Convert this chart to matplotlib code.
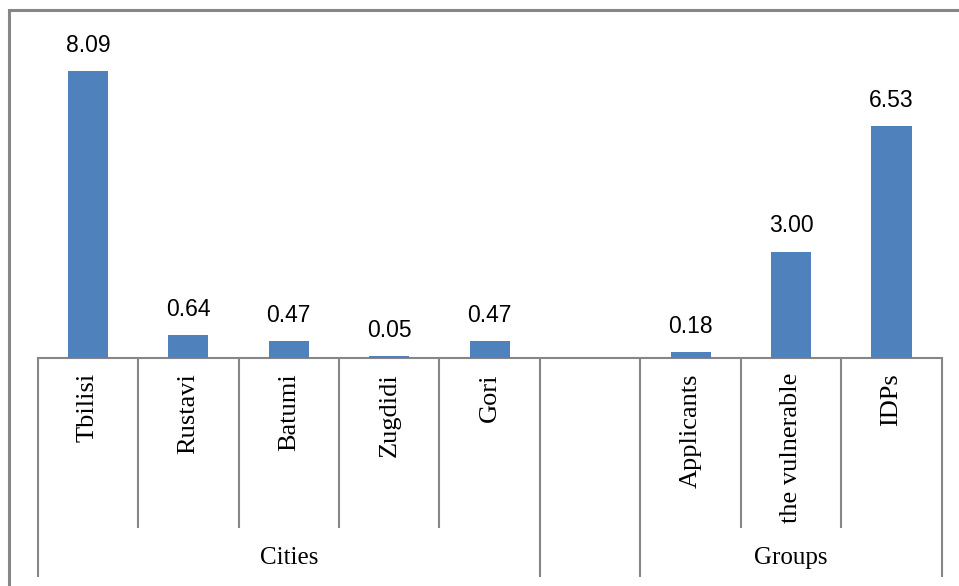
import matplotlib
matplotlib.use("Agg")
import matplotlib.pyplot as plt
from matplotlib.patches import Rectangle
from matplotlib.transforms import blended_transform_factory

# Data
categories = ["Tbilisi", "Rustavi", "Batumi", "Zugdidi", "Gori", "",
              "Applicants", "the vulnerable", "IDPs"]
values = [8.09, 0.64, 0.47, 0.05, 0.47, None, 0.18, 3.00, 6.53]
groups = ["Cities", "", "Groups"]
group_spans = [(0, 5), (5, 6), (6, 9)]   # category index ranges [start, end)

W, H = 959, 586
DPI = 100
fig = plt.figure(figsize=(W / DPI, H / DPI), dpi=DPI)
fig.patch.set_facecolor("white")

# axes placement in pixels
x0, x1 = 37.7, 941.7
y_base, y_top = 358, 10
ax = fig.add_axes([x0 / W, 1 - y_base / H, (x1 - x0) / W, (y_base - y_top) / H])
ax.set_facecolor("none")

bar_color = "#4F81BD"
line_color = "#868686"
px_per_unit = 35.5
n = len(categories)

xs = [i for i, v in enumerate(values) if v is not None]
vs = [v for v in values if v is not None]
ax.bar(xs, vs, width=0.4, color=bar_color, zorder=3)

ax.set_xlim(-0.5, n - 0.5)
ax.set_ylim(0, (y_base - y_top) / px_per_unit)

for x, v in zip(xs, vs):
    ax.annotate(f"{v:.2f}", (x, v), xytext=(0, 19 * 72 / DPI),
                textcoords="offset points", ha="center", va="baseline",
                fontsize=16.5, family="Liberation Sans", color="#000000")

for s in ["top", "left", "right"]:
    ax.spines[s].set_visible(False)
ax.spines["bottom"].set_color(line_color)
ax.spines["bottom"].set_linewidth(1.5)
ax.set_yticks([])
ax.set_xticks([])

# divider lines below the baseline
ax_h = y_base - y_top
tr = blended_transform_factory(ax.transData, ax.transAxes)
group_edges = sorted({b for span in group_spans for b in span})
tick_depth = -(528 - y_base) / ax_h
group_depth = -(577 - y_base) / ax_h
for k in range(n + 1):
    depth = group_depth if k in group_edges else tick_depth
    ax.plot([k - 0.5, k - 0.5], [0, depth], transform=tr, color=line_color,
            lw=1.5, clip_on=False, solid_capstyle="butt")

# category labels
label_top = -(373 - y_base) / ax_h
for i, c in enumerate(categories):
    if c:
        ax.text(i, label_top, c, transform=tr, rotation=90, ha="center",
                va="top", fontsize=19, family="Liberation Serif")

# group labels
group_y = -(558 - y_base) / ax_h
for g, (a, b) in zip(groups, group_spans):
    if g:
        ax.text((a + b - 1) / 2, group_y, g, transform=tr, ha="center",
                va="center", fontsize=18, family="Liberation Serif")

# chart frame
fig.patches.append(Rectangle((9 / W, -0.05), 1.1, 1 - 10 / H + 0.05,
                             transform=fig.transFigure, fill=False,
                             edgecolor=line_color, lw=2.2))

fig.savefig("out.png", dpi=DPI)
